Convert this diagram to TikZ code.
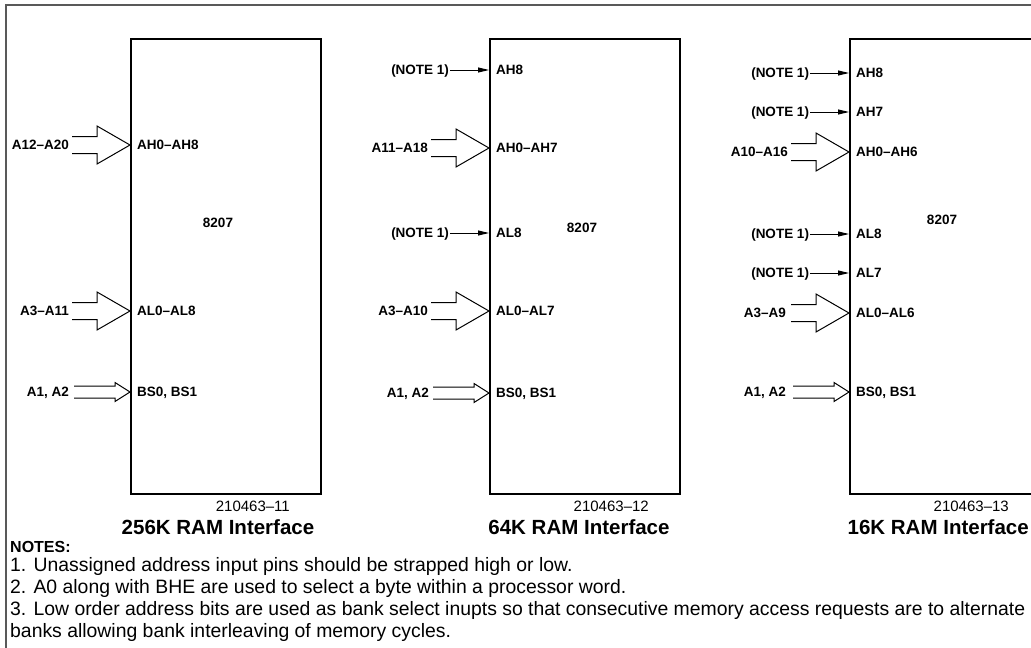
\documentclass[tikz,border=0pt]{standalone}
\usepackage{fontspec}
\setmainfont{Liberation Sans}
\usetikzlibrary{calc,arrows.meta}
\newcommand\bigarr[1]{\draw[arrline] ($(#1)+(-58,-8.5)$) -- ++(25,0) -- ++(0,-10.5) -- (#1) -- ++(-33,19) -- ++(0,-10.5) -- ++(-25,0);}
\newcommand\smallarr[1]{\draw[arrline] ($(#1)+(-56,-6)$) -- ++(41,0) -- ++(0,-3.5) -- (#1) -- ++(-15,9.5) -- ++(0,-3.5) -- ++(-41,0);}
\newcommand\notethree{3. Low order address bits are used as bank select inupts so that consecutive memory access requests are to alternate}
\newlength\Lthree
\begin{document}
\settowidth\Lthree{\fontsize{10}{12}\selectfont\notethree}
\pgfmathsetmacro\notesize{10*1015/\Lthree}
\begin{tikzpicture}[x=1pt,y=-1pt,
  chip/.style={draw, line width=2pt, minimum width=190pt, minimum height=455pt, anchor=north west, inner sep=0pt},
  lbl/.style={font=\bfseries\fontsize{13.5}{13.5}\selectfont, inner sep=0pt, text height=9.7pt, text depth=0pt},
  pinlbl/.style={lbl, anchor=west},
  srclbl/.style={lbl, anchor=east, outer sep=1pt},
  chipname/.style={lbl},
  arrline/.style={line width=1pt, line join=miter},
  notearr/.style={line width=1pt, -{Triangle[length=11pt,width=5pt]}},
  partno/.style={font=\fontsize{15}{15}\selectfont, anchor=east, inner sep=0pt},
  title/.style={font=\bfseries\fontsize{20.5}{20.5}\selectfont, inner sep=0pt},
  notetxt/.style={font=\fontsize{\notesize}{\notesize}\selectfont, anchor=base west, inner sep=0pt}
]
\useasboundingbox (0,0) rectangle (1031,648);
\fill[white] (0,0) rectangle (1031,648);
\draw[black!65, line width=1.6pt] (6,648) -- (6,5) -- (1031,5);

% ---------- box 1 ----------
\node[chip] (c1) at (130,38) {};
\node[chipname] (k1) at (218,223) {8207};
\node[pinlbl] (p1a) at (137,145) {AH0--AH8};
\node[srclbl] (s1a) at (70,145) {A12--A20};
\coordinate (t1a) at (c1.west |- p1a.west);
\bigarr{t1a}
\node[pinlbl] (p1b) at (137,311) {AL0--AL8};
\node[srclbl] (s1b) at (70,311) {A3--A11};
\coordinate (t1b) at (c1.west |- p1b.west);
\bigarr{t1b}
\node[pinlbl] (p1c) at (137,392) {BS0, BS1};
\node[srclbl] (s1c) at (70,392) {A1, A2};
\coordinate (t1c) at (c1.west |- p1c.west);
\smallarr{t1c}
\node[partno] (q1) at (290,506) {210463--11};
\node[title] (h1) at (218,527) {256K RAM Interface};

% ---------- box 2 ----------
\node[chip] (c2) at (489,38) {};
\node[chipname] (k2) at (582,228) {8207};
\node[pinlbl] (p2a) at (496,70) {AH8};
\node[srclbl] (n2a) at (450,70) {(NOTE 1)};
\draw[notearr] (n2a) -- (c2.west |- n2a);
\node[pinlbl] (p2b) at (496,148) {AH0--AH7};
\node[srclbl] (s2b) at (429,148) {A11--A18};
\coordinate (t2b) at (c2.west |- p2b.west);
\bigarr{t2b}
\node[pinlbl] (p2c) at (496,233) {AL8};
\node[srclbl] (n2c) at (450,233) {(NOTE 1)};
\draw[notearr] (n2c) -- (c2.west |- n2c);
\node[pinlbl] (p2d) at (496,311) {AL0--AL7};
\node[srclbl] (s2d) at (429,311) {A3--A10};
\coordinate (t2d) at (c2.west |- p2d.west);
\bigarr{t2d}
\node[pinlbl] (p2e) at (496,393) {BS0, BS1};
\node[srclbl] (s2e) at (430,393) {A1, A2};
\coordinate (t2e) at (c2.west |- p2e.west);
\smallarr{t2e}
\node[partno] (q2) at (649,506) {210463--12};
\node[title] (h2) at (579,527) {64K RAM Interface};

% ---------- box 3 ----------
\node[chip] (c3) at (849,38) {};
\node[chipname] (k3) at (942,220) {8207};
\node[pinlbl] (p3a) at (856,73) {AH8};
\node[srclbl] (n3a) at (810,73) {(NOTE 1)};
\draw[notearr] (n3a) -- (c3.west |- n3a);
\node[pinlbl] (p3b) at (856,112) {AH7};
\node[srclbl] (n3b) at (810,112) {(NOTE 1)};
\draw[notearr] (n3b) -- (c3.west |- n3b);
\node[pinlbl] (p3c) at (856,152) {AH0--AH6};
\node[srclbl] (s3c) at (789,152) {A10--A16};
\coordinate (t3c) at (c3.west |- p3c.west);
\bigarr{t3c}
\node[pinlbl] (p3d) at (856,234) {AL8};
\node[srclbl] (n3d) at (810,234) {(NOTE 1)};
\draw[notearr] (n3d) -- (c3.west |- n3d);
\node[pinlbl] (p3e) at (856,273) {AL7};
\node[srclbl] (n3e) at (810,273) {(NOTE 1)};
\draw[notearr] (n3e) -- (c3.west |- n3e);
\node[pinlbl] (p3f) at (856,313) {AL0--AL6};
\node[srclbl] (s3f) at (787,313) {A3--A9};
\coordinate (t3f) at (c3.west |- p3f.west);
\bigarr{t3f}
\node[pinlbl] (p3g) at (856,392) {BS0, BS1};
\node[srclbl] (s3g) at (787,392) {A1, A2};
\coordinate (t3g) at (c3.west |- p3g.west);
\smallarr{t3g}
\node[partno] (q3) at (1009,506) {210463--13};
\node[title, anchor=east] (h3) at (1029,527) {16K RAM Interface};

% ---------- notes ----------
\node[font=\bfseries\fontsize{16}{16}\selectfont, anchor=base west, inner sep=0pt] (nh) at (10,552) {NOTES:};
\node[notetxt] (l1) at (10,571.5) {1. Unassigned address input pins should be strapped high or low.};
\node[notetxt] (l2) at (10,593.5) {2. A0 along with BHE are used to select a byte within a processor word.};
\node[notetxt] (l3) at (10,615.5) {\notethree};
\node[notetxt] (l4) at (10,637.5) {banks allowing bank interleaving of memory cycles.};
\end{tikzpicture}
\end{document}
